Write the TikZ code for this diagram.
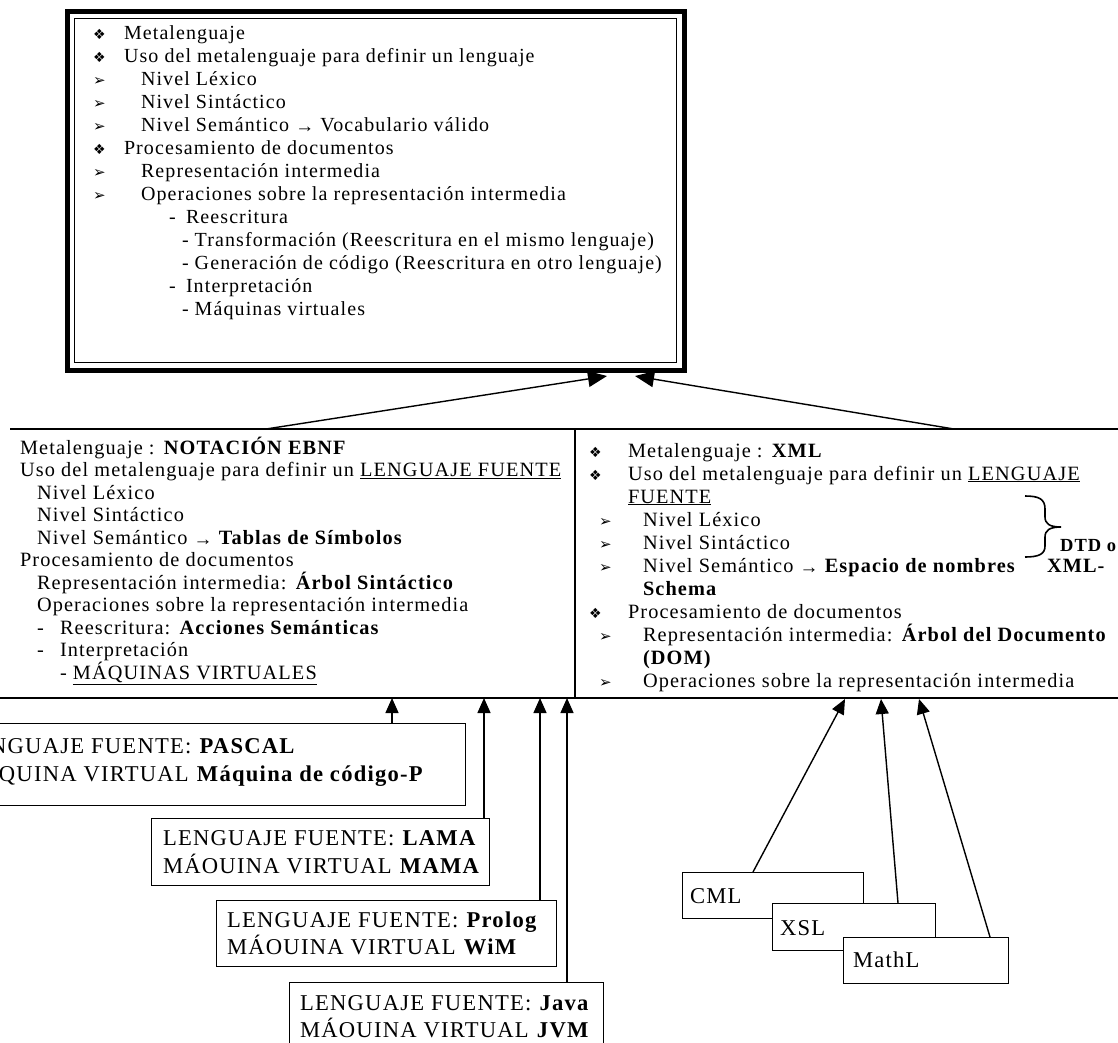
\documentclass[tikz,border=0pt]{standalone}
\usepackage{fontspec}
\setmainfont[LetterSpace=5.5]{Liberation Serif}
\newfontfamily\dingf{DejaVu Sans}
\usetikzlibrary{arrows.meta}
\newcommand\tsz{\fontsize{20}{23}\selectfont}
\newcommand\msz{\fontsize{20.3}{23}\selectfont}
\newcommand\bsz{\fontsize{22.6}{28}\selectfont}
\newcommand\bulA{{\dingf\fontsize{14}{14}\selectfont ❖}}
\newcommand\bulB{{\dingf\fontsize{15}{15}\selectfont ➢}}
\newcommand\sarr{{\fontsize{19}{19}\selectfont\raisebox{-1.5pt}{→}}}
\tikzset{
  tt/.style={anchor=base west, inner sep=0pt, outer sep=0pt, font=\tsz},
  tx/.style={anchor=base west, inner sep=0pt, outer sep=0pt, font=\msz},
  bx/.style={anchor=base west, inner sep=0pt, outer sep=0pt, font=\bsz},
  cn/.style={line width=1.4pt, -{Triangle[length=15pt,width=13pt]}},
  cnbig/.style={line width=1.4pt, -{Triangle[length=19pt,width=16pt]}},
  vbox/.style={draw, line width=1.4pt, fill=white, anchor=north west, inner sep=0pt},
  rule/.style={line width=1.6pt},
}
\begin{document}
\begin{tikzpicture}[x=1pt,y=-1pt]
\fill[white] (0,0) rectangle (1118,1042);
\useasboundingbox (0,0) rectangle (1118,1042);
\clip (0,0) rectangle (1118,1042);

% ---------- top box ----------
\node[draw, line width=5pt, minimum width=617pt, minimum height=359pt, inner sep=0pt, anchor=north west] (topbox) at (64.5,8.5) {};
\node[draw, line width=1.5pt, minimum width=602pt, minimum height=344pt, inner sep=0pt] (topin) at (topbox.center) {};

\node[tt] (a0b) at (93,39) {\bulA};  \node[tt] (a0) at (124,39) {Metalenguaje};
\node[tt] (a1b) at (93,62) {\bulA};  \node[tt] (a1) at (124,62) {Uso del metalenguaje para definir un lenguaje};
\node[tt] (a2b) at (93,85) {\bulB};  \node[tt] (a2) at (141,85) {Nivel Léxico};
\node[tt] (a3b) at (93,108) {\bulB}; \node[tt] (a3) at (141,108) {Nivel Sintáctico};
\node[tt] (a4b) at (93,131) {\bulB}; \node[tt] (a4) at (141,131) {Nivel Semántico \sarr{} Vocabulario válido};
\node[tt] (a5b) at (93,154) {\bulA}; \node[tt] (a5) at (124,154) {Procesamiento de documentos};
\node[tt] (a6b) at (93,177) {\bulB}; \node[tt] (a6) at (141,177) {Representación intermedia};
\node[tt] (a7b) at (93,200) {\bulB}; \node[tt] (a7) at (141,200) {Operaciones sobre la representación intermedia};
\node[tt] (a8d) at (169,223) {-};    \node[tt] (a8) at (186,223) {Reescritura};
\node[tt] (a9) at (182,246) {- Transformación (Reescritura en el mismo lenguaje)};
\node[tt] (a10) at (182,269) {- Generación de código (Reescritura en otro lenguaje)};
\node[tt] (a11d) at (169,292) {-};   \node[tt] (a11) at (186,292) {Interpretación};
\node[tt] (a12) at (182,315) {- Máquinas virtuales};

% ---------- middle boxes ----------
\draw[rule] (10,429) -- (1118,429);
\draw[rule] (0,698) -- (1118,698);
\draw[line width=2pt] (575,429) -- (575,698);

\coordinate (sA) at (266,429); \coordinate (tA) at (607,376);
\coordinate (sB) at (954,429); \coordinate (tB) at (635,376);
\draw[cnbig] (sA) -- (tA);
\draw[cnbig] (sB) -- (tB);

% left box
\node[tx] (b0) at (20,454) {Metalenguaje : \textbf{NOTACIÓN EBNF}};
\node[tx] (b1) at (20,476.5) {Uso del metalenguaje para definir un \underline{LENGUAJE FUENTE}};
\node[tx] (b2) at (37,499) {Nivel Léxico};
\node[tx] (b3) at (37,521.5) {Nivel Sintáctico};
\node[tx] (b4) at (37,544) {Nivel Semántico \sarr{} \textbf{Tablas de Símbolos}};
\node[tx] (b5) at (20,566.5) {Procesamiento de documentos};
\node[tx] (b6) at (37,589) {Representación intermedia: \textbf{Árbol Sintáctico}};
\node[tx] (b7) at (37,611.5) {Operaciones sobre la representación intermedia};
\node[tx] (b8d) at (37,634) {-};   \node[tx] (b8) at (60,634) {Reescritura: \textbf{Acciones Semánticas}};
\node[tx] (b9d) at (37,656.5) {-}; \node[tx] (b9) at (60,656.5) {Interpretación};
\node[tx] (b10) at (60,679) {- \underline{MÁQUINAS VIRTUALES}};

% right box
\node[tx] (c0b) at (589,457) {\bulA}; \node[tx] (c0) at (628,457) {Metalenguaje : \textbf{XML}};
\node[tx] (c1b) at (589,480) {\bulA}; \node[tx] (c1) at (628,480) {Uso del metalenguaje para definir un \underline{LENGUAJE}};
\node[tx] (c2) at (628,503) {\underline{FUENTE}};
\node[tx] (c3b) at (599,526) {\bulB}; \node[tx] (c3) at (643,526) {Nivel Léxico};
\node[tx] (c4b) at (599,549) {\bulB}; \node[tx] (c4) at (643,549) {Nivel Sintáctico};
\node[tx] (c5b) at (599,572) {\bulB}; \node[tx] (c5) at (643,572) {Nivel Semántico \sarr{} \textbf{Espacio de nombres}};
\node[tx] (c5x) at (1047,572) {\textbf{XML-}};
\node[tx] (c6) at (643,595) {\textbf{Schema}};
\node[tx] (c7b) at (589,618) {\bulA}; \node[tx] (c7) at (628,618) {Procesamiento de documentos};
\node[tx] (c8b) at (599,641) {\bulB}; \node[tx] (c8) at (643,641) {Representación intermedia: \textbf{Árbol del Documento}};
\node[tx] (c9) at (643,664) {\textbf{(DOM)}};
\node[tx] (c10b) at (599,687) {\bulB}; \node[tx] (c10) at (643,687) {Operaciones sobre la representación intermedia};
\node[anchor=base west, inner sep=0pt, font=\fontsize{18.5}{20}\selectfont] (dtd) at (1060,551) {\textbf{DTD o}};
\draw[line width=1.6pt] (1025,496) .. controls (1039,496) and (1045,499) .. (1045,509) -- (1045,517) .. controls (1045,524) and (1050,527) .. (1061,527) .. controls (1050,527) and (1045,530) .. (1045,537) -- (1045,546) .. controls (1045,554) and (1039,557) .. (1025,557);

% ---------- bottom left boxes ----------
\coordinate (p1) at (392,723); \coordinate (q1) at (392,698);
\coordinate (p2) at (484,818); \coordinate (q2) at (484,698);
\coordinate (p3) at (540,900); \coordinate (q3) at (540,698);
\coordinate (p4) at (567,982); \coordinate (q4) at (567,698);
\draw[cn] (p1) -- (q1);
\draw[cn] (p2) -- (q2);
\draw[cn] (p3) -- (q3);
\draw[cn] (p4) -- (q4);

\node[vbox, minimum width=515pt, minimum height=82pt] (pas) at (-50,723) {};
\node[bx] (pas1) at (-40,753) {LENGUAJE FUENTE: \textbf{PASCAL}};
\node[bx] (pas2) at (-40,781) {MÁQUINA VIRTUAL \textbf{Máquina de código-P}};

\node[vbox, minimum width=338pt, minimum height=67pt] (lam) at (151,818) {};
\node[bx] (lam1) at (163,845) {LENGUAJE FUENTE: \textbf{LAMA}};
\node[bx] (lam2) at (163,873) {MÁOUINA VIRTUAL \textbf{MAMA}};

\node[vbox, minimum width=340pt, minimum height=66pt] (pro) at (216,900) {};
\node[bx] (pro1) at (227,927) {LENGUAJE FUENTE: \textbf{Prolog}};
\node[bx] (pro2) at (227,954) {MÁOUINA VIRTUAL \textbf{WiM}};

\node[vbox, minimum width=314pt, minimum height=70pt] (jav) at (289,982) {};
\node[bx] (jav1) at (300,1010) {LENGUAJE FUENTE: \textbf{Java}};
\node[bx] (jav2) at (300,1037) {MÁOUINA VIRTUAL \textbf{JVM}};

% ---------- bottom right boxes ----------
\coordinate (e1) at (753,872); \coordinate (f1) at (845,699);
\coordinate (e2) at (898,903); \coordinate (f2) at (881,699);
\coordinate (e3) at (990,937); \coordinate (f3) at (919,699);
\draw[cn] (e1) -- (f1);
\draw[cn] (e2) -- (f2);
\draw[cn] (e3) -- (f3);

\node[vbox, minimum width=181pt, minimum height=46pt] (cml) at (682,872) {};
\node[bx] (cmlt) at (690,903) {CML};
\node[vbox, minimum width=163pt, minimum height=47pt] (xsl) at (772,903) {};
\node[bx] (xslt) at (780,935) {XSL};
\node[vbox, minimum width=165pt, minimum height=46pt] (mat) at (843,937) {};
\node[bx] (matt) at (853,967) {MathL};
\end{tikzpicture}
\end{document}
